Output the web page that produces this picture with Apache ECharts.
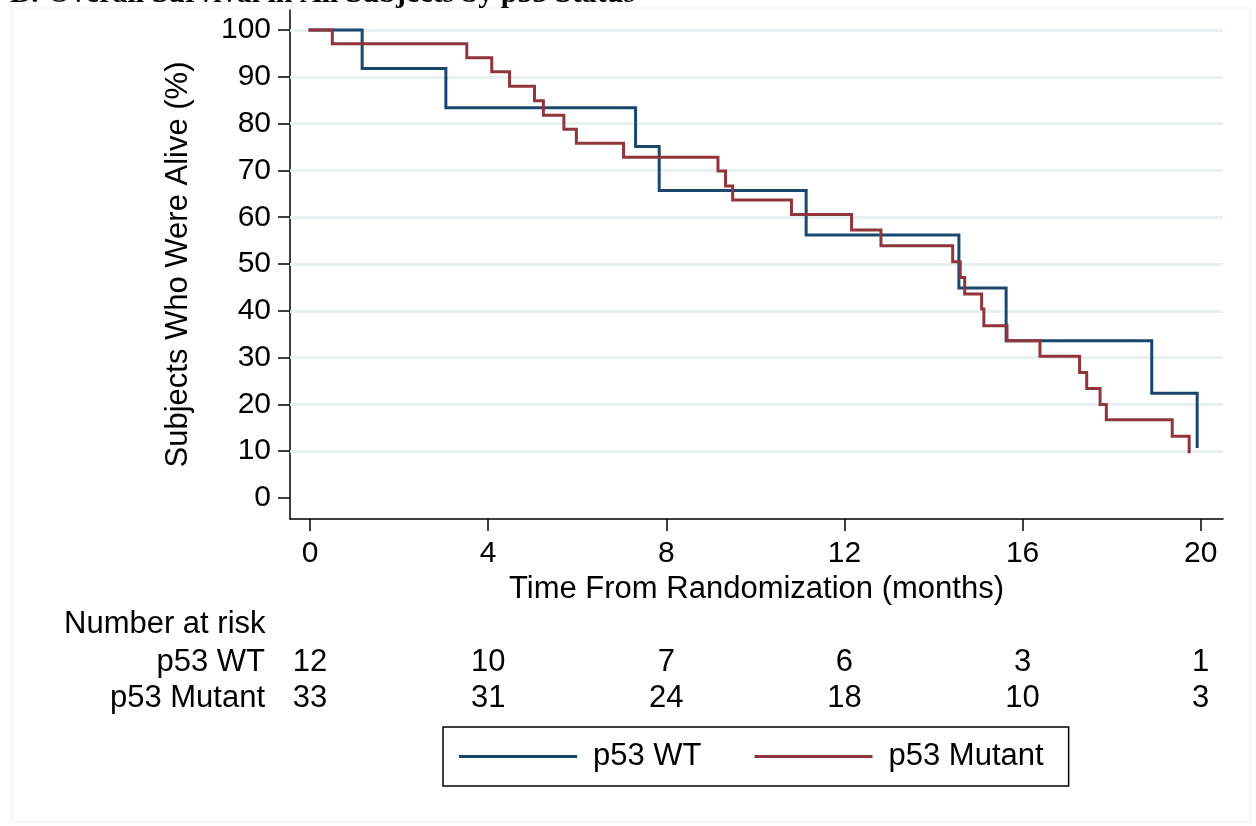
<!DOCTYPE html>
<html>
<head>
<meta charset="utf-8">
<script src="https://cdn.jsdelivr.net/npm/echarts@6/dist/echarts.min.js"></script>
<style>
  html, body { margin: 0; padding: 0; background: #fff; }
  #main { width: 1256px; height: 826px; }
</style>
</head>
<body>
<div id="main"></div>
<script>
// survival steps (time in months, % alive)
var wtTime = [0, 1.17, 3.05, 7.31, 7.84, 11.14, 14.57, 15.63, 18.9, 19.92];
var wtSurv = [100, 91.8, 83.4, 75.1, 65.7, 56.2, 44.9, 33.6, 22.4, 11.0];

var mutTime = [0, 0.5, 3.52, 4.08, 4.48, 5.04, 5.24, 5.70, 5.98, 7.04, 9.16, 9.33, 9.49,
  10.81, 12.16, 12.82, 14.43, 14.6, 14.7, 15.08, 15.13, 15.65, 16.39, 17.28, 17.44,
  17.74, 17.88, 19.36, 19.74];
var mutSurv = [100, 97.1, 94.1, 91.1, 88.0, 84.9, 81.8, 78.8, 75.8, 72.8, 69.9, 66.7, 63.7,
  60.6, 57.3, 53.9, 50.5, 47.1, 43.6, 40.4, 36.8, 33.6, 30.3, 26.8, 23.4,
  20.0, 16.7, 13.2, 9.9];

// number at risk table
var riskTimes = [0, 4, 8, 12, 16, 20];
var riskWT = [12, 10, 7, 6, 3, 1];
var riskMut = [33, 31, 24, 18, 10, 3];
var groups = ['p53 WT', 'p53 Mutant'];

var xTicks = [0, 4, 8, 12, 16, 20];
var yTicks = [0, 10, 20, 30, 40, 50, 60, 70, 80, 90, 100];
var gridVals = [10, 20, 30, 40, 50, 60, 70, 80, 90, 100];

var FONT = '"Liberation Sans", Arial, Helvetica, sans-serif';
var BLUE = '#1a476f';
var RED = '#90353b';

function pairs(xs, ys) {
  return xs.map(function (x, i) { return [x, ys[i]]; });
}
function riskPoints(vals, grp) {
  return riskTimes.map(function (t, i) { return [t, grp, vals[i]]; });
}
function riskSeries(name, vals, grp) {
  return {
    name: name, type: 'scatter', xAxisIndex: 1, yAxisIndex: 1,
    symbolSize: 1, itemStyle: { opacity: 0 },
    label: {
      show: true, position: 'inside', fontSize: 31, color: '#000', opacity: 1,
      textBorderWidth: 0, fontFamily: FONT,
      formatter: function (p) { return p.value[2]; }
    },
    data: riskPoints(vals, grp)
  };
}

var chart = echarts.init(document.getElementById('main'));
var option = {
  animation: false,
  backgroundColor: '#fff',
  textStyle: { fontFamily: FONT },
  graphic: [
    {
      type: 'rect', silent: true, z: -10,
      shape: { x: 12, y: 8, width: 1238, height: 814 },
      style: { fill: 'none', stroke: '#edf1f3', lineWidth: 1 }
    },
    {
      type: 'text', left: 10, top: -21, silent: true,
      style: { text: 'B: Overall Survival in All Subjects by p53 Status', fontFamily: '"Liberation Serif", "Times New Roman", serif', fontWeight: 'bold', fontSize: 30, fill: '#000' }
    },
    {
      type: 'text', left: 64, top: 609, silent: true,
      style: { text: 'Number at risk', fontFamily: FONT, fontSize: 31, fill: '#000' }
    }
  ],
  legend: {
    data: groups,
    left: 443, top: 727,
    icon: 'rect',
    itemWidth: 118, itemHeight: 3, itemGap: 53,
    padding: [14, 25, 14, 16],
    borderColor: '#000', borderWidth: 1.5, borderRadius: 0,
    textStyle: { fontFamily: FONT, fontSize: 31, color: '#000', padding: [0, 0, 0, 11] }
  },
  grid: [
    { left: 290, right: 33, top: 10, bottom: 307 },
    { left: 290, right: 33, top: 644, height: 72 }
  ],
  xAxis: [
    {
      type: 'value', gridIndex: 0, min: -0.45, max: 20.5,
      name: 'Time From Randomization (months)', nameLocation: 'middle', nameGap: 51,
      nameTextStyle: { fontSize: 31, color: '#000', fontFamily: FONT },
      axisLine: { show: true, onZero: false, lineStyle: { color: '#000', width: 1.5 } },
      axisTick: { show: true, length: 12, customValues: xTicks, lineStyle: { color: '#000', width: 1.5 } },
      axisLabel: { customValues: xTicks, margin: 20, fontSize: 30, color: '#000', fontFamily: FONT },
      splitLine: { show: false }
    },
    {
      type: 'value', gridIndex: 1, min: -0.45, max: 20.5,
      axisLine: { show: false }, axisTick: { show: false }, axisLabel: { show: false },
      splitLine: { show: false }
    }
  ],
  yAxis: [
    {
      type: 'value', gridIndex: 0, min: -4.5, max: 104.3,
      name: 'Subjects Who Were Alive (%)', nameLocation: 'middle', nameGap: 96,
      nameTextStyle: { fontSize: 31, color: '#000', fontFamily: FONT },
      axisLine: { show: true, onZero: false, lineStyle: { color: '#000', width: 1.5 } },
      axisTick: { show: true, length: 12, customValues: yTicks, lineStyle: { color: '#000', width: 1.5 } },
      axisLabel: { customValues: yTicks, margin: 19, fontSize: 30, color: '#000', fontFamily: FONT },
      splitLine: { show: false }
    },
    {
      type: 'category', gridIndex: 1, data: groups, inverse: true,
      axisLine: { show: false }, axisTick: { show: false },
      axisLabel: { interval: 0, margin: 25, fontSize: 31, color: '#000', fontFamily: FONT },
      splitLine: { show: false }
    }
  ],
  series: [
    {
      name: 'gridlines', type: 'line', xAxisIndex: 0, yAxisIndex: 0, data: [], z: 1,
      markLine: {
        silent: true, symbol: 'none', label: { show: false }, z: 1,
        lineStyle: { color: '#e9f0f2', width: 3, type: 'solid' },
        data: gridVals.map(function (v) { return { yAxis: v }; })
      }
    },
    {
      name: 'p53 WT', type: 'line', step: 'end', xAxisIndex: 0, yAxisIndex: 0, z: 10,
      symbol: 'none', showSymbol: false, color: BLUE,
      lineStyle: { color: BLUE, width: 3, cap: 'square', join: 'miter' },
      data: pairs(wtTime, wtSurv)
    },
    {
      name: 'p53 Mutant', type: 'line', step: 'end', xAxisIndex: 0, yAxisIndex: 0, z: 10,
      symbol: 'none', showSymbol: false, color: RED,
      lineStyle: { color: RED, width: 3, cap: 'square', join: 'miter' },
      data: pairs(mutTime, mutSurv)
    },
    riskSeries('risk WT', riskWT, groups[0]),
    riskSeries('risk Mutant', riskMut, groups[1])
  ]
};
chart.setOption(option);
</script>
</body>
</html>
